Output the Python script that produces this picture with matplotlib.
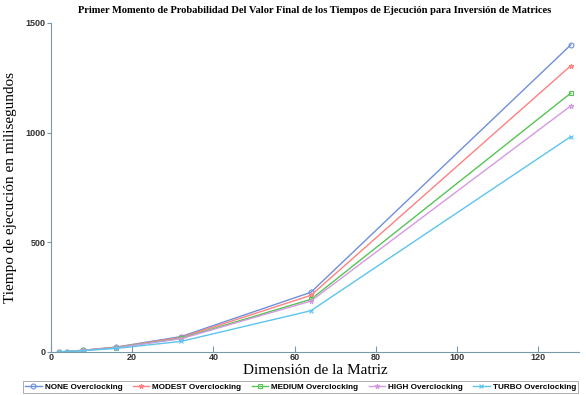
import numpy as np
import matplotlib.pyplot as plt

# matrix dimensions tested
dims = [2, 4, 8, 16, 32, 64, 128]

# mean execution time (ms) per overclocking level
none_ms = [0.5, 2, 8, 22, 70, 272, 1400]
modest_ms = [0.5, 2, 7.5, 21, 66, 258, 1305]
medium_ms = [0.5, 2, 7, 20, 62, 240, 1180]
high_ms = [0.5, 2, 7, 19, 60, 232, 1122]
turbo_ms = [0.4, 1.5, 6, 16, 48, 188, 982]

labels = ['NONE Overclocking', 'MODEST Overclocking', 'MEDIUM Overclocking',
          'HIGH Overclocking', 'TURBO Overclocking']
series = [none_ms, modest_ms, medium_ms, high_ms, turbo_ms]
colors = ['#6f8fdc', '#ff8080', '#55c455', '#d49ae0', '#5cc4ee']
markers = ['o', '*', 's', '*', 'x']

fig = plt.figure(figsize=(5.86, 3.95), dpi=100)
ax = fig.add_axes([0.087, 0.109, 0.901, 0.833])

for vals, lab, c, m in zip(series, labels, colors, markers):
    ax.plot(dims, vals, color=c, marker=m, markersize=3.5, markerfacecolor='none',
            markeredgewidth=0.8, linewidth=1.0, label=lab)

ax.set_xlim(0, 130)
ax.set_ylim(0, 1500)
ax.set_xticks([0, 20, 40, 60, 80, 100, 120])
ax.set_yticks([0, 500, 1000, 1500])

for side in ['top', 'right']:
    ax.spines[side].set_visible(False)
for side in ['left', 'bottom']:
    ax.spines[side].set_color('#7a98a8')
    ax.spines[side].set_linewidth(0.8)
ax.tick_params(axis='x', direction='in', length=4, color='#7a98a8', pad=1)
ax.tick_params(axis='y', direction='out', length=3, color='#7a98a8', pad=1)
for t in ax.get_xticklabels() + ax.get_yticklabels():
    t.set_family('Liberation Sans')
    t.set_fontsize(6.5)
    t.set_fontweight('bold')
    t.set_color('#333333')

ax.set_title('Primer Momento de Probabilidad Del Valor Final de los Tiempos de Ejecución para Inversión de Matrices',
             family='Liberation Serif', fontweight='bold', fontsize=7.6, pad=7)
ax.set_xlabel('Dimensión de la Matriz', family='Liberation Serif', fontsize=11, labelpad=1)
ax.set_ylabel('Tiempo de ejecución en milisegundos', family='Liberation Serif', fontsize=11, labelpad=6)

leg = fig.legend(loc='lower center', bbox_to_anchor=(0.513, -0.006), ncol=5,
                 prop={'family': 'Liberation Sans', 'weight': 'bold', 'size': 5.9},
                 frameon=True, fancybox=False, handlelength=2.0, handletextpad=0.4,
                 columnspacing=1.25, borderpad=0.25)
leg.get_frame().set_edgecolor('#888888')
leg.get_frame().set_linewidth(0.6)

fig.savefig('out.png', dpi=100)
